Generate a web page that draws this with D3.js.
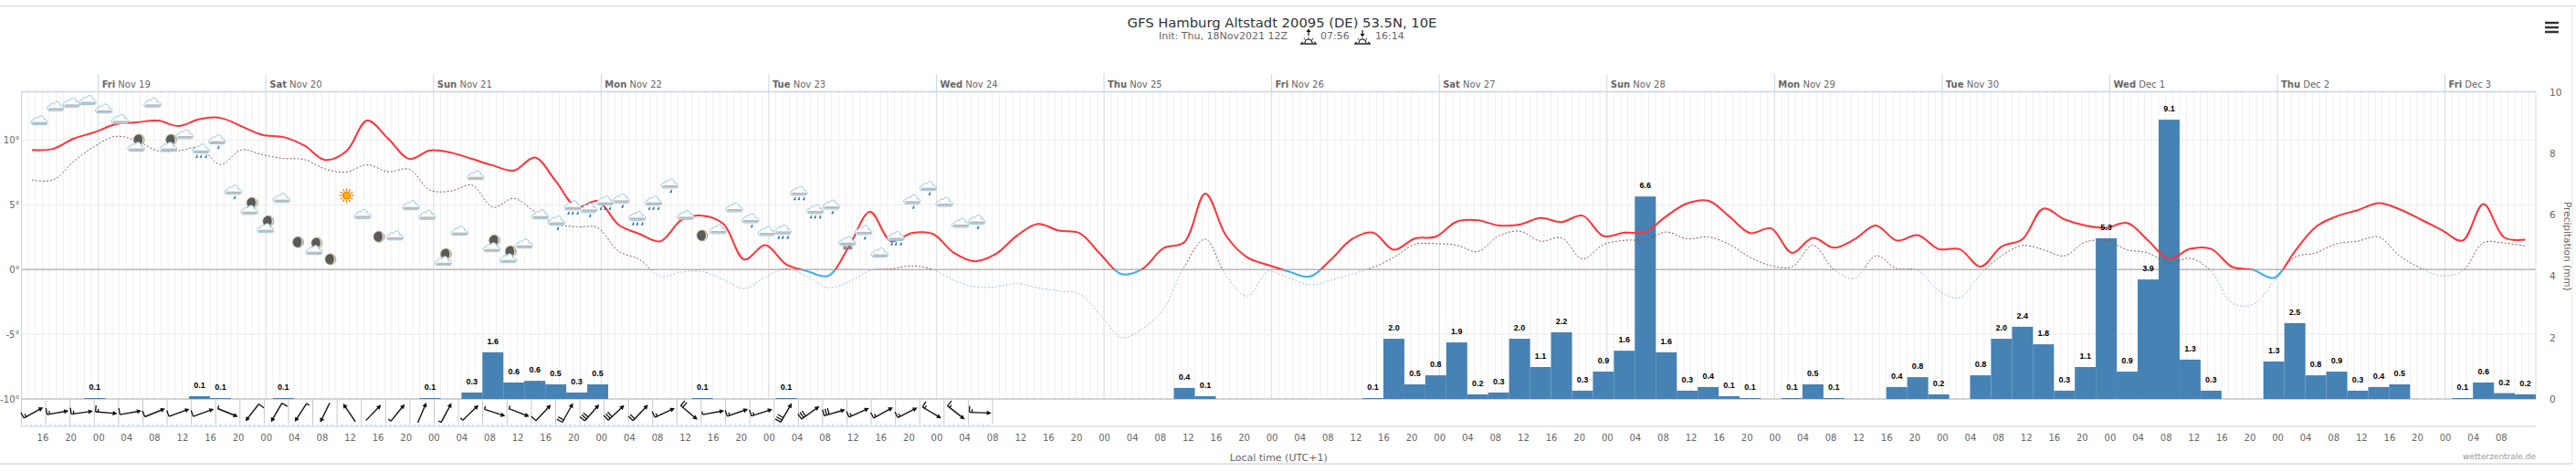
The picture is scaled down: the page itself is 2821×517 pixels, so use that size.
<!DOCTYPE html>
<html>
<head>
<meta charset="utf-8">
<script src="https://cdn.jsdelivr.net/npm/d3@7"></script>
<style>
  html, body { margin: 0; padding: 0; background: #fff; }
  svg { display: block; }
  text { font-family: "DejaVu Sans", sans-serif; }
</style>
</head>
<body>
<svg id="chart" width="2821" height="517"></svg>
<script>
// 3-hourly values, first one at Nov 18 13:00-16:00
const tempVals = [9.25,9.32,10.12,10.62,11.23,11.37,11.51,11.09,11.63,11.72,11.07,10.4,10.24,9.58,8.47,9.13,11.51,10.12,8.55,9.2,
  9.04,8.55,8.05,7.65,8.66,6.83,4.82,5.3,3.46,2.75,2.19,3.84,4.17,3.53,0.78,1.88,0.4,-0.12,-0.49,1.8,
  4.47,2.19,2.82,2.75,1.29,0.64,1.2,2.6,3.53,3.01,2.82,1.18,-0.35,0.05,1.65,2.12,5.88,2.59,0.94,0.35,
  -0.16,-0.54,0.78,2.35,2.85,1.53,2.4,2.54,3.7,3.81,3.41,3.48,3.98,3.67,4.17,2.59,2.85,2.9,4.12,5.11,
  5.32,4.12,2.82,3.18,1.29,2.45,1.69,2.35,3.41,2.24,2.66,1.58,1.58,0.23,1.77,2.35,4.71,3.88,3.41,3.23,
  3.6,2.24,0.82,1.6,1.6,0.21,-0.02,-0.64,1.41,3.3,4.12,4.59,5.13,4.66,3.88,3.06,2.24,5.06,2.47,2.31];
const dewVals = [6.92,6.92,8.36,9.53,10.29,9.96,9.18,9.18,9.41,8.12,9.25,8.87,8.59,8.5,7.77,7.53,8.1,7.56,7.75,6.14,
  6.07,6.52,4.82,5.49,4.47,3.53,3.3,3.23,1.41,0.78,-0.54,-0.19,-0.16,-0.78,-1.48,-0.59,0.05,-0.54,-1.41,-0.94,
  -0.07,0.05,0.28,0,-0.83,-1.34,-1.34,-1.08,-1.41,-1.65,-1.88,-3.53,-5.25,-4.59,-3.06,0.23,2.35,-0.47,-2.05,-0.16,
  -0.64,-1.18,-0.83,-0.35,0.16,0.94,1.95,2.0,1.88,1.39,2.59,2.97,2.19,2.45,0.82,1.93,2.26,2.31,2.9,2.38,
  2.52,1.95,0.94,0.3,0.21,1.88,0,-0.68,1.06,0.07,-0.07,-1.65,-2.19,-0.35,1.06,1.86,1.53,1.06,2.12,2.24,
  1.53,1.29,0.47,0.87,-0.12,-2.59,-2.7,-0.94,0.94,1.29,2.0,2.19,2.52,1.06,0.12,-0.47,-0.12,2.07,2.05,1.81];
const precipVals = [0,0,0,.03,0,0,0,0,.09,.03,0,0,.03,0,0,0,0,0,0,.03,
  0,.21,1.52,.535,.59,.475,.21,.475,0,0,0,0,.03,0,0,0,.03,0,0,0,
  0,0,0,0,0,0,0,0,0,0,0,0,0,0,0,.36,.09,0,0,0,
  0,0,0,0,.03,1.96,.475,.77,1.84,.15,.21,1.96,1.04,2.17,.27,.89,1.57,6.59,1.52,.27,
  .39,.09,.03,0,.03,.475,.03,0,0,.39,.71,.15,0,.77,1.96,2.35,1.78,.27,1.04,5.23,
  .89,3.89,9.09,1.28,.27,0,0,1.22,2.47,.77,.89,.27,.39,.475,0,0,.03,.535,.19,.15];

// wind strip cells: arrow direction (deg, 0 = east, counter-clockwise) and feathers in half units
const windDir = [29,10,8,-5,10,22,20,20,-22,232,240,237,244,124,46,51,67,62,44,-18,
  -21,47,61,49,43,47,25,-40,10,19,18,60,36,16,24,29,27,-31,-38,-2];
const windFeathers = [3,3,3,3,2,2,2,2,1,2,2,1,0,0,0,1,0,1,1,1,
  1,2,4,6,6,4,3,4,1,3,3,6,6,6,3,3,3,3,3,3];

// weather symbols
const iconTypes = ["cloud","cloud","cloud","cloud","cloud","cloud","mooncloud","cloud","mooncloud","cloud",
  "rain3","rain1","rain1","mooncloud","mooncloud","cloud","moon","mooncloud","moon","sun",
  "cloud","moon","cloud","cloud","cloud","mooncloud","cloud","cloud","mooncloud","mooncloud",
  "cloud","cloud","rain1","rain3","rain1","rain3","rain1","rain3","rain3","rain1",
  "cloud","moon","cloud","cloud","rain1","cloud","rain3","rain3","rain3","rain1",
  "snow","rain1","cloud","rain3","rain1","rain1","cloud","cloud","rain1"];
const iconTemps = [11.51,12.59,12.87,13.07,12.41,11.6,9.75,12.87,9.75,10.43,
  9.32,10.03,6.14,4.87,3.46,5.51,2.12,1.77,0.8,5.72,
  4.26,2.54,2.61,4.94,4.19,0.92,2.97,7.27,1.98,1.13,
  1.98,4.24,3.76,4.94,4.75,5.3,5.46,4.12,5.3,6.62,
  4.19,2.63,3.09,4.78,3.93,2.94,3.06,6.05,4.64,4.99,
  2.19,3.02,1.29,2.56,5.39,6.43,5.2,3.58,3.83];

const dayNames = ["Fri","Sat","Sun","Mon","Tue","Wed","Thu","Fri","Sat","Sun","Mon","Tue","Wed","Thu","Fri"];
const dayDates = ["Nov 19","Nov 20","Nov 21","Nov 22","Nov 23","Nov 24","Nov 25","Nov 26","Nov 27","Nov 28","Nov 29","Nov 30","Dec 1","Dec 2","Dec 3"];
const tempTicks = [10,5,0,-5,-10];
const precipTicks = [10,8,6,4,2,0];

const HOUR = 3600000;
const t0 = Date.UTC(2021,10,18,13);
const plotLeft = 23.5, plotRight = 2777, plotTop = 100.5, plotBase = 437, windBase = 467;

const svg = d3.select("#chart");

const x = d3.scaleUtc().domain([new Date(t0), new Date(t0 + 360*HOUR)]).range([plotLeft, plotRight]);
const yT = d3.scaleLinear().domain([-10,10]).range([plotBase, 153.5]);
const yP = d3.scaleLinear().domain([0,10]).range([plotBase, plotTop]);
const windX = d3.scaleLinear().domain([0,40]).range([plotLeft, 1087]);
const iconX = d3.scaleLinear().domain([0,58]).range([43.3, 1069.9]);

const binTime = i => new Date(t0 + i*3*HOUR);
const midTime = i => new Date(t0 + (i*3 + 1.5)*HOUR);
const hours = d3.range(0,361).map(h => new Date(t0 + h*HOUR));
const days = dayNames.map((d,i) => new Date(t0 + (11 + i*24)*HOUR));

// page frame
svg.append("line").attr("x1",0).attr("x2",2821).attr("y1",6.5).attr("y2",6.5).attr("stroke","#e0e0e0").attr("stroke-width",1.5);
svg.append("line").attr("x1",0).attr("x2",2817).attr("y1",508).attr("y2",508).attr("stroke","#dcdcdc").attr("stroke-width",1.5);
svg.append("line").attr("x1",2817).attr("x2",2817).attr("y1",6).attr("y2",508).attr("stroke","#e4e8e0").attr("stroke-width",1);

// title
svg.append("text").attr("x",1404).attr("y",30).attr("text-anchor","middle").attr("font-size",14.76)
  .attr("fill","#333").text("GFS Hamburg Altstadt 20095 (DE) 53.5N, 10E");
const sub = svg.append("g").attr("font-size",11).attr("fill","#666");
sub.append("text").attr("x",1269).attr("y",43).text("Init: Thu, 18Nov2021 12Z");
sub.append("text").attr("x",1446).attr("y",43).text("07:56");
sub.append("text").attr("x",1506).attr("y",43).text("16:14");

function sunSymbol(cx, up) {
  const g = svg.append("g").attr("transform", `translate(${cx},0)`).attr("stroke","#111").attr("fill","none");
  g.append("path").attr("d","M-4,47 A4,4 0 0 1 4,47").attr("stroke-width",1.2);
  g.append("path").attr("d","M-8,47 L-6,46 M8,47 L6,46 M-5,42 L-4,43.5 M5,42 L4,43.5 M0,41 L0,42").attr("stroke-width",1);
  g.append("line").attr("x1",-9).attr("x2",9).attr("y1",48).attr("y2",48).attr("stroke-width",1.4);
  g.append("line").attr("x1",0).attr("x2",0).attr("y1",33).attr("y2",39).attr("stroke-width",1.2);
  g.append("path").attr("fill","#111").attr("stroke","none")
    .attr("d", up ? "M-2.5,35 L0,31.5 L2.5,35 Z" : "M-2.5,37 L0,40.5 L2.5,37 Z");
}
sunSymbol(1433, true);
sunSymbol(1492, false);

// context menu button
svg.append("g").selectAll("line").data([25,30,35]).join("line")
  .attr("x1",2787).attr("x2",2802).attr("y1",d => d).attr("y2",d => d)
  .attr("stroke","#333").attr("stroke-width",2.5);

// vertical grid
svg.append("g").selectAll("line").data(hours).join("line")
  .attr("x1",d => x(d)).attr("x2",d => x(d)).attr("y1",plotTop).attr("y2",plotBase)
  .attr("stroke","#efefef").attr("stroke-width",1);
svg.append("g").selectAll("line").data(days).join("line")
  .attr("x1",d => x(d)).attr("x2",d => x(d)).attr("y1",plotTop).attr("y2",plotBase)
  .attr("stroke","#dedede").attr("stroke-width",1);

// day labels above the plot
svg.append("g").selectAll("line").data(days).join("line")
  .attr("x1",d => x(d)).attr("x2",d => x(d)).attr("y1",81).attr("y2",plotTop)
  .attr("stroke","#c6d5ea").attr("stroke-width",1);
const dayLabels = svg.append("g").attr("font-size",10).attr("fill","#666");
days.forEach((d,i) => {
  const t = dayLabels.append("text").attr("x",x(d)+4).attr("y",96);
  t.append("tspan").attr("font-weight","bold").text(dayNames[i]);
  t.append("tspan").text(" " + dayDates[i]);
});

// horizontal grid and temperature labels
svg.append("g").selectAll("line").data(tempTicks).join("line")
  .attr("x1",plotLeft).attr("x2",plotRight).attr("y1",d => yT(d)).attr("y2",d => yT(d))
  .attr("stroke",d => d === 0 ? "#b8b8b8" : d === -10 ? "#c4c4c4" : "#eeeeee")
  .attr("stroke-width",d => d === 0 || d === -10 ? 1.5 : 1.2);
svg.append("g").attr("font-size",10).attr("fill","#666").selectAll("text").data(tempTicks).join("text")
  .attr("x",21.5).attr("y",d => yT(d)+3.5).attr("text-anchor","end").text(d => d + "\u00b0");

// plot border
svg.append("line").attr("x1",plotLeft).attr("x2",plotRight).attr("y1",plotTop).attr("y2",plotTop).attr("stroke","#c6d5ea").attr("stroke-width",1.5);
svg.append("line").attr("x1",plotLeft).attr("x2",plotLeft).attr("y1",plotTop).attr("y2",windBase).attr("stroke","#c6d5ea").attr("stroke-width",1);
svg.append("line").attr("x1",plotRight).attr("x2",plotRight).attr("y1",plotTop).attr("y2",plotBase).attr("stroke","#dde4ee").attr("stroke-width",1);

// precipitation axis
svg.append("g").attr("font-size",10.5).attr("fill","#666").selectAll("text").data(precipTicks).join("text")
  .attr("x",2792).attr("y",d => yP(d)+4).text(d => d);
svg.append("text").attr("transform",`translate(2808,${(plotTop+plotBase)/2 + 1}) rotate(90)`)
  .attr("text-anchor","middle").attr("font-size",10.5).attr("fill","#666").text("Precipitation (mm)");

// precipitation bars
const barIdx = d3.range(precipVals.length).filter(i => precipVals[i] > 0);
svg.append("g").selectAll("rect").data(barIdx).join("rect")
  .attr("x",i => x(binTime(i))).attr("width",i => x(binTime(i+1)) - x(binTime(i)))
  .attr("y",i => yP(precipVals[i])).attr("height",i => plotBase - yP(precipVals[i]))
  .attr("fill","#4682b4");

// temperature lines, split at 0 degrees
const defs = svg.append("defs");
defs.append("clipPath").attr("id","above").append("rect").attr("x",0).attr("y",0).attr("width",2821).attr("height",yT(0));
defs.append("clipPath").attr("id","below").append("rect").attr("x",0).attr("y",yT(0)).attr("width",2821).attr("height",300);

const line = d3.line().x((d,i) => x(midTime(i))).y(d => yT(d)).curve(d3.curveCatmullRom.alpha(0.5));

svg.append("path").attr("d",line(dewVals)).attr("fill","none").attr("clip-path","url(#above)")
  .attr("stroke","#8f5555").attr("stroke-width",1).attr("stroke-dasharray","2,2");
svg.append("path").attr("d",line(dewVals)).attr("fill","none").attr("clip-path","url(#below)")
  .attr("stroke","#9cc0e8").attr("stroke-width",1).attr("stroke-dasharray","2,2");
svg.append("path").attr("d",line(tempVals)).attr("fill","none").attr("clip-path","url(#above)")
  .attr("stroke","#ff3339").attr("stroke-width",2);
svg.append("path").attr("d",line(tempVals)).attr("fill","none").attr("clip-path","url(#below)")
  .attr("stroke","#45b0ea").attr("stroke-width",2.2);

// weather icons
function drawCloud(g, dy) {
  const c = g.append("g").attr("transform",`translate(0,${dy})`);
  c.append("path").attr("d","M-7,4.5 C-10.5,4.5 -10.5,-1 -6,-1 C-6,-3.5 -3,-4 -2,-2.5 C-1,-6.5 5,-6.5 5,-1 C9.5,-1.5 10,4.5 6.5,4.5 Z")
    .attr("fill","#fff").attr("stroke","#8cc6e4").attr("stroke-width",1);
  c.append("rect").attr("x",-8).attr("y",1.5).attr("width",16).attr("height",2.4).attr("fill","#bcbcbc");
}
function drawMoon(g, dx, dy) {
  const m = g.append("g").attr("transform",`translate(${dx},${dy})`);
  m.append("circle").attr("r",6).attr("fill","#5a5a5a").attr("stroke","#b8ad8c").attr("stroke-width",0.8);
  m.append("path").attr("d","M1.5,-5.6 A6,6 0 0 1 1.5,5.6 A7.5,7.5 0 0 0 1.5,-5.6 Z").attr("fill","#f2eac8");
}
function drawDrops(g, offs) {
  g.selectAll("path.drop").data(offs).join("path").attr("class","drop")
    .attr("d",d => `M${d+0.8},6.5 L${d-0.8},9.5 L${d+0.8},9.5 Z`)
    .attr("fill","#1c6aa8").attr("stroke","#1c6aa8").attr("stroke-width",0.6);
}
const icons = svg.append("g");
iconTypes.forEach((type,i) => {
  const g = icons.append("g").attr("transform",`translate(${iconX(i)},${yT(iconTemps[i])})`);
  if (type === "sun") {
    d3.range(12).forEach(k => {
      const a = k*Math.PI/6;
      g.append("line").attr("x1",5*Math.cos(a)).attr("y1",5*Math.sin(a)).attr("x2",8*Math.cos(a)).attr("y2",8*Math.sin(a))
        .attr("stroke","#f47a10").attr("stroke-width",1.2);
    });
    g.append("circle").attr("r",4).attr("fill","#ffb400").attr("stroke","#f06a00");
  } else if (type === "moon") {
    drawMoon(g,0,0);
  } else if (type === "mooncloud") {
    drawMoon(g,2.7,-4);
    drawCloud(g,4);
  } else {
    drawCloud(g,0);
    if (type === "rain1") drawDrops(g,[1]);
    if (type === "rain3") drawDrops(g,[-5,-0.5,5]);
    if (type === "snow") g.append("text").attr("x",0).attr("y",13).attr("text-anchor","middle")
      .attr("font-size",11).attr("font-weight","bold").attr("fill","#777").text("**");
  }
});

// bar labels
svg.append("g").selectAll("text").data(barIdx).join("text")
  .attr("x",i => x(midTime(i))).attr("y",i => yP(precipVals[i]) - 9)
  .attr("text-anchor","middle").attr("font-size",9).attr("font-weight","bold").attr("fill","#000")
  .style("font-family","'Liberation Sans'")
  .text(i => (Math.ceil(precipVals[i]*10)/10).toFixed(1));

// wind strip
svg.append("line").attr("x1",plotLeft).attr("x2",plotRight).attr("y1",windBase).attr("y2",windBase).attr("stroke","#c6d0e4").attr("stroke-width",1);
svg.append("g").selectAll("line").data(d3.range(41)).join("line")
  .attr("x1",d => windX(d)).attr("x2",d => windX(d)).attr("y1",plotBase).attr("y2",windBase-3)
  .attr("stroke","#c8c8c8").attr("stroke-width",1);
svg.append("g").selectAll("line").data(d3.range(0,200)).join("line")
  .attr("x1",d => windX(d/5)).attr("x2",d => windX(d/5)).attr("y1",windBase-3).attr("y2",windBase)
  .attr("stroke","#c6d0e4").attr("stroke-width",1);

const barbs = svg.append("g");
windDir.forEach((deg,i) => {
  const a = deg*Math.PI/180;
  const dx = Math.cos(a), dy = -Math.sin(a);
  const nx = dy, ny = -dx;
  const cx = windX(i+0.5), cy = 452, len = 12;
  const g = barbs.append("g").attr("transform",`translate(${cx},${cy})`);
  g.append("line").attr("x1",-dx*len).attr("y1",-dy*len).attr("x2",dx*(len-2)).attr("y2",dy*(len-2))
    .attr("stroke","#111").attr("stroke-width",1.4);
  g.append("path").attr("fill","#111")
    .attr("d",`M${dx*len},${dy*len} L${dx*(len-5)+nx*2.6},${dy*(len-5)+ny*2.6} L${dx*(len-5)-nx*2.6},${dy*(len-5)-ny*2.6} Z`);
  let units = windFeathers[i], pos = 0;
  while (units > 0) {
    const l = units >= 2 ? 7 : 3.5;
    const bx = -dx*(len-pos), by = -dy*(len-pos);
    g.append("line").attr("x1",bx).attr("y1",by).attr("x2",bx+nx*l).attr("y2",by+ny*l)
      .attr("stroke","#111").attr("stroke-width",1.3);
    units -= 2;
    pos += 2.8;
  }
});

// bottom time axis, last label is Dec 3 08
const bottomAxis = d3.axisBottom(x)
  .tickValues(d3.range(3,356,4).map(h => new Date(t0 + h*HOUR)))
  .tickFormat(d3.utcFormat("%H")).tickSize(0);
const axisG = svg.append("g").attr("transform",`translate(0,${windBase+6})`).call(bottomAxis);
axisG.select(".domain").remove();
axisG.selectAll("text").attr("font-size",10).attr("fill","#666").style("font-family","'DejaVu Sans'");

svg.append("text").attr("x",(plotLeft+plotRight)/2).attr("y",505).attr("text-anchor","middle").attr("font-size",11).attr("fill","#666").text("Local time (UTC+1)");
svg.append("text").attr("x",plotRight).attr("y",503).attr("text-anchor","end").attr("font-size",9).attr("fill","#999").text("wetterzentrale.de");
</script>
</body>
</html>
